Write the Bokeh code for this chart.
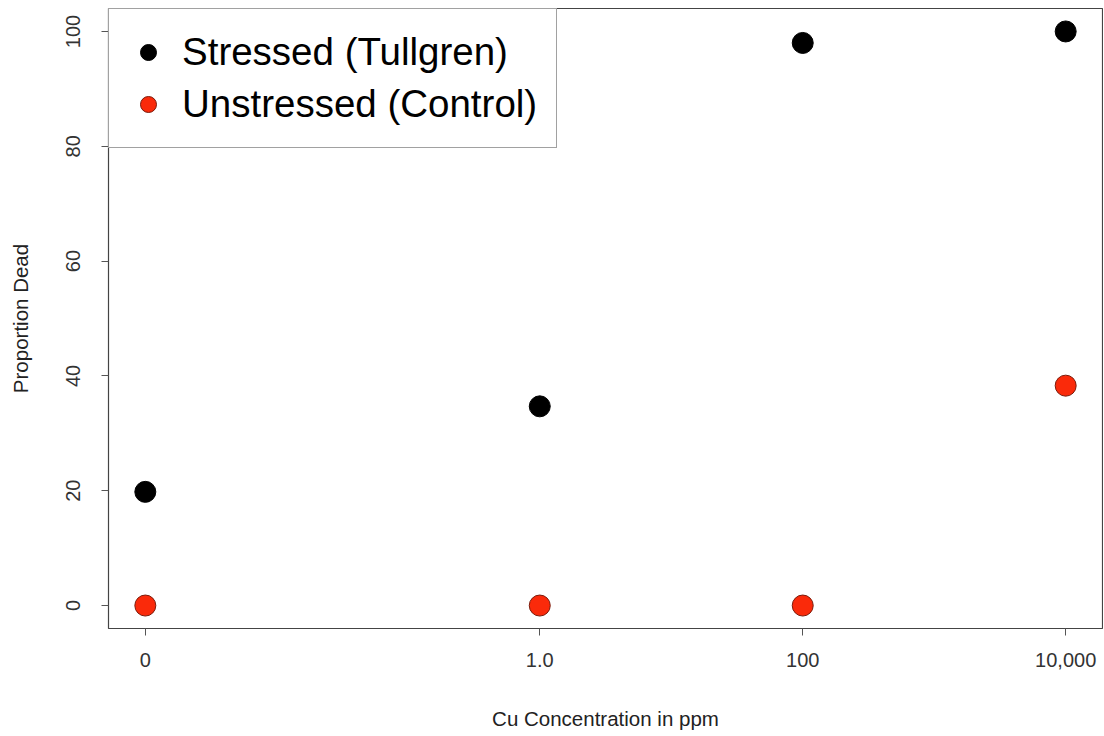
from bokeh.plotting import figure
from bokeh.models import FixedTicker, Range1d, Legend, LegendItem
from bokeh.embed import file_html
from bokeh.resources import INLINE

# Data (x = log10 of Cu concentration; "0 ppm" placed at -3)
log_conc = [-3, 0, 2, 4]
conc_labels = ["0", "1.0", "100", "10,000"]
stressed = [19.8, 34.7, 98.0, 100.0]
unstressed = [0.0, 0.0, 0.0, 38.3]
y_ticks = [0, 20, 40, 60, 80, 100]

FONT = "Liberation Sans"

p = figure(width=1103, height=735, output_backend="svg", toolbar_location=None,
           x_range=Range1d(-3.28, 4.28), y_range=Range1d(-4, 104),
           min_border_left=108, min_border_right=1, min_border_top=8,
           min_border_bottom=107)

p.xgrid.visible = False
p.ygrid.visible = False
p.outline_line_color = "#444444"
p.outline_line_width = 1.2
p.background_fill_color = "white"
p.border_fill_color = "white"

r1 = p.scatter(log_conc, stressed, size=21, fill_color="black", line_color="black")
r2 = p.scatter(log_conc, unstressed, size=21, fill_color="#fa2a0a", line_color="#7a1a0a",
               line_width=1)

p.xaxis.ticker = FixedTicker(ticks=log_conc)
p.xaxis.major_label_overrides = {t: l for t, l in zip(log_conc, conc_labels)}
p.yaxis.ticker = FixedTicker(ticks=y_ticks)

for ax in (p.xaxis[0], p.yaxis[0]):
    ax.axis_line_color = None
    ax.major_tick_line_color = "#555555"
    ax.major_tick_out = 7
    ax.major_tick_in = 0
    ax.minor_tick_line_color = None
    ax.major_label_text_font = FONT
    ax.major_label_text_font_size = "20px"
    ax.major_label_text_color = "#333333"
    ax.axis_label_text_font = FONT
    ax.axis_label_text_font_size = "20.5px"
    ax.axis_label_text_font_style = "normal"
    ax.axis_label_text_color = "#222222"

p.xaxis.axis_label = "Cu Concentration in ppm"
p.yaxis.axis_label = "Proportion Dead"
p.yaxis.major_label_orientation = "vertical"
p.xaxis.major_label_standoff = 17
p.xaxis.axis_label_standoff = 37
p.yaxis.major_label_standoff = 21
p.yaxis.axis_label_standoff = 32

legend = Legend(items=[LegendItem(label="Stressed (Tullgren)", renderers=[r1]),
                       LegendItem(label="Unstressed (Control)", renderers=[r2])],
                location="top_left", margin=0, padding=19, spacing=4,
                glyph_width=40, glyph_height=48, label_height=48, label_standoff=14,
                label_text_font=FONT, label_text_font_size="38.5px",
                label_text_color="black",
                border_line_color="#444444", border_line_width=1.2,
                background_fill_color="white", background_fill_alpha=1.0)
p.add_layout(legend)

open("out.html", "w").write(file_html(p, INLINE))
